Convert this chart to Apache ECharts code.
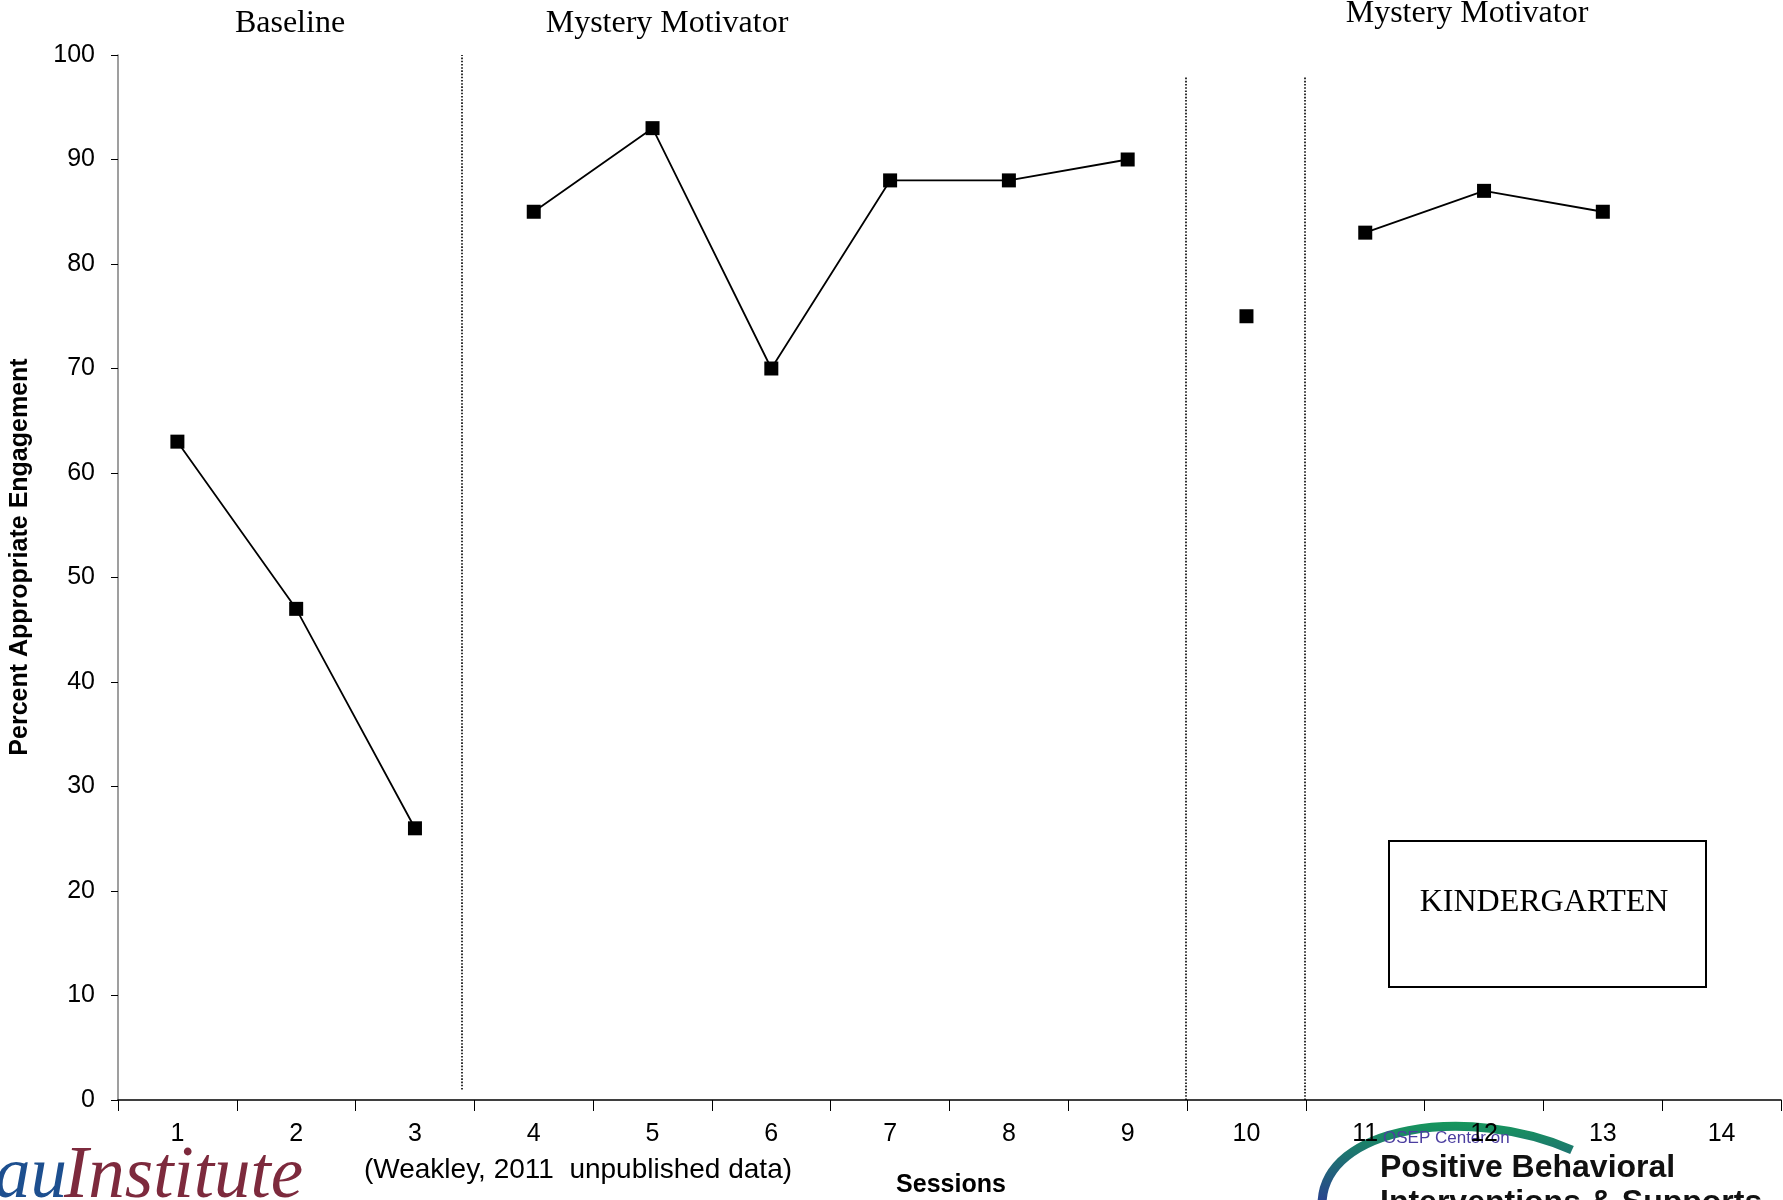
<!DOCTYPE html>
<html>
<head>
<meta charset="utf-8">
<script src="https://cdn.jsdelivr.net/npm/echarts@6/dist/echarts.min.js"></script>
<style>
  html, body { margin: 0; padding: 0; background: #fff; }
  #main { width: 1783px; height: 1200px; }
</style>
</head>
<body>
<div id="main"></div>
<script>
// data
var sessions = ['1', '2', '3', '4', '5', '6', '7', '8', '9', '10', '11', '12', '13', '14'];
var baseline = [63, 47, 26];                 // sessions 1-3
var motivatorA = [85, 93, 70, 88, 88, 90];   // sessions 4-9
var reversal = [75];                         // session 10
var motivatorB = [83, 87, 85];               // sessions 11-13
// phase change lines: [session position, from %, to %]
var phaseChanges = [[3.39, 1, 100], [9.49, 0, 98], [10.49, 0, 98]];

var SERIF = '"Liberation Serif", "Times New Roman", serif';
var SANS = '"Liberation Sans", Arial, sans-serif';

// put a phase's values onto the 14 session slots
function place(firstSession, values) {
  var out = sessions.map(function () { return '-'; });
  values.forEach(function (v, i) { out[firstSession - 1 + i] = v; });
  return out;
}

function phaseSeries(firstSession, values) {
  return {
    type: 'line',
    data: place(firstSession, values),
    symbol: 'rect',
    symbolSize: 14,
    connectNulls: false,
    lineStyle: { color: '#000', width: 1.8 },
    itemStyle: { color: '#000' },
    silent: true,
    animation: false
  };
}

(function () {
  var myChart = echarts.init(document.getElementById('main'));

  var option = {
    backgroundColor: '#fff',
    animation: false,
    grid: {
      left: 118,
      top: 55,
      right: 2,
      bottom: 100,
      outerBoundsMode: 'none'
    },
    xAxis: [{
      type: 'category',
      data: sessions,
      boundaryGap: true,
      axisLine: { lineStyle: { color: '#000', width: 1.5 } },
      axisTick: { show: true, length: 11, lineStyle: { color: '#000', width: 1 } },
      axisLabel: { color: '#000', fontSize: 25, fontFamily: SANS, margin: 22 },
      splitLine: { show: false }
    }, {
      // hidden helper axis for the phase change lines
      type: 'value',
      min: 0.5,
      max: 14.5,
      show: false
    }],
    yAxis: {
      type: 'value',
      min: 0,
      max: 100,
      interval: 10,
      axisLine: { show: true, lineStyle: { color: '#7f7f7f', width: 1.5 } },
      axisTick: { show: true, length: 7, lineStyle: { color: '#000' } },
      axisLabel: { color: '#000', fontSize: 25, fontFamily: SANS, margin: 23 },
      splitLine: { show: false }
    },
    series: [
      phaseSeries(1, baseline),
      phaseSeries(4, motivatorA),
      phaseSeries(10, reversal),
      phaseSeries(11, motivatorB),
      {
        type: 'line',
        xAxisIndex: 1,
        data: [],
        silent: true,
        markLine: {
          symbol: ['none', 'none'],
          silent: true,
          label: { show: false },
          lineStyle: { color: '#000', type: 'dotted', width: 1.6 },
          data: phaseChanges.map(function (p) {
            return [{ coord: [p[0], p[1]] }, { coord: [p[0], p[2]] }];
          })
        }
      }
    ],
    graphic: [
      // phase titles
      { type: 'text', x: 290, y: 24, style: { text: 'Baseline', font: '32px ' + SERIF, fill: '#000', align: 'center', verticalAlign: 'middle' } },
      { type: 'text', x: 667, y: 24, style: { text: 'Mystery Motivator', font: '32px ' + SERIF, fill: '#000', align: 'center', verticalAlign: 'middle' } },
      { type: 'text', x: 1467, y: 14, style: { text: 'Mystery Motivator', font: '32px ' + SERIF, fill: '#000', align: 'center', verticalAlign: 'middle' } },
      // axis titles
      { type: 'text', x: 20, y: 557, rotation: Math.PI / 2, style: { text: 'Percent Appropriate Engagement', font: 'bold 25px ' + SANS, fill: '#000', align: 'center', verticalAlign: 'middle' } },
      { type: 'text', x: 951, y: 1185, style: { text: 'Sessions', font: 'bold 25px ' + SANS, fill: '#000', align: 'center', verticalAlign: 'middle' } },
      { type: 'text', x: 578, y: 1170, style: { text: '(Weakley, 2011  unpublished data)', font: '28px ' + SANS, fill: '#000', align: 'center', verticalAlign: 'middle' } },
      // kindergarten box
      { type: 'rect', shape: { x: 1389, y: 841, width: 317, height: 146 }, style: { fill: '#fff', stroke: '#000', lineWidth: 2 } },
      { type: 'text', x: 1544, y: 903, style: { text: 'KINDERGARTEN', font: '32px ' + SERIF, fill: '#000', align: 'center', verticalAlign: 'middle' } },
      // institute logo, cut at the left and bottom edges
      { type: 'text', x: -6, y: 1214, style: { text: 'au', font: 'italic 73px ' + SERIF, fill: '#1d4f8f', align: 'left', verticalAlign: 'bottom' } },
      { type: 'text', x: 64, y: 1214, style: { text: 'Institute', font: 'italic 73px ' + SERIF, fill: '#7d2a3d', align: 'left', verticalAlign: 'bottom' } },
      // PBIS logo, cut at the bottom edge
      {
        type: 'bezierCurve',
        shape: { x1: 1322, y1: 1205, cpx1: 1322, cpy1: 1125, cpx2: 1470, cpy2: 1105, x2: 1572, y2: 1150 },
        style: {
          fill: null,
          lineWidth: 9,
          stroke: new echarts.graphic.LinearGradient(0, 0, 0, 1, [
            { offset: 0, color: '#16965c' },
            { offset: 1, color: '#2b3a93' }
          ])
        }
      },
      { type: 'text', x: 1383, y: 1138, style: { text: 'OSEP Center on', font: '17px ' + SANS, fill: '#4b3ea0', align: 'left', verticalAlign: 'middle' } },
      { type: 'text', x: 1380, y: 1168, style: { text: 'Positive Behavioral', font: 'bold 32px ' + SANS, fill: '#111', align: 'left', verticalAlign: 'middle' } },
      { type: 'text', x: 1380, y: 1203, style: { text: 'Interventions & Supports', font: 'bold 32px ' + SANS, fill: '#111', align: 'left', verticalAlign: 'middle' } }
    ]
  };

  if (option && typeof option === 'object') {
    myChart.setOption(option);
  }
})();
</script>
</body>
</html>
